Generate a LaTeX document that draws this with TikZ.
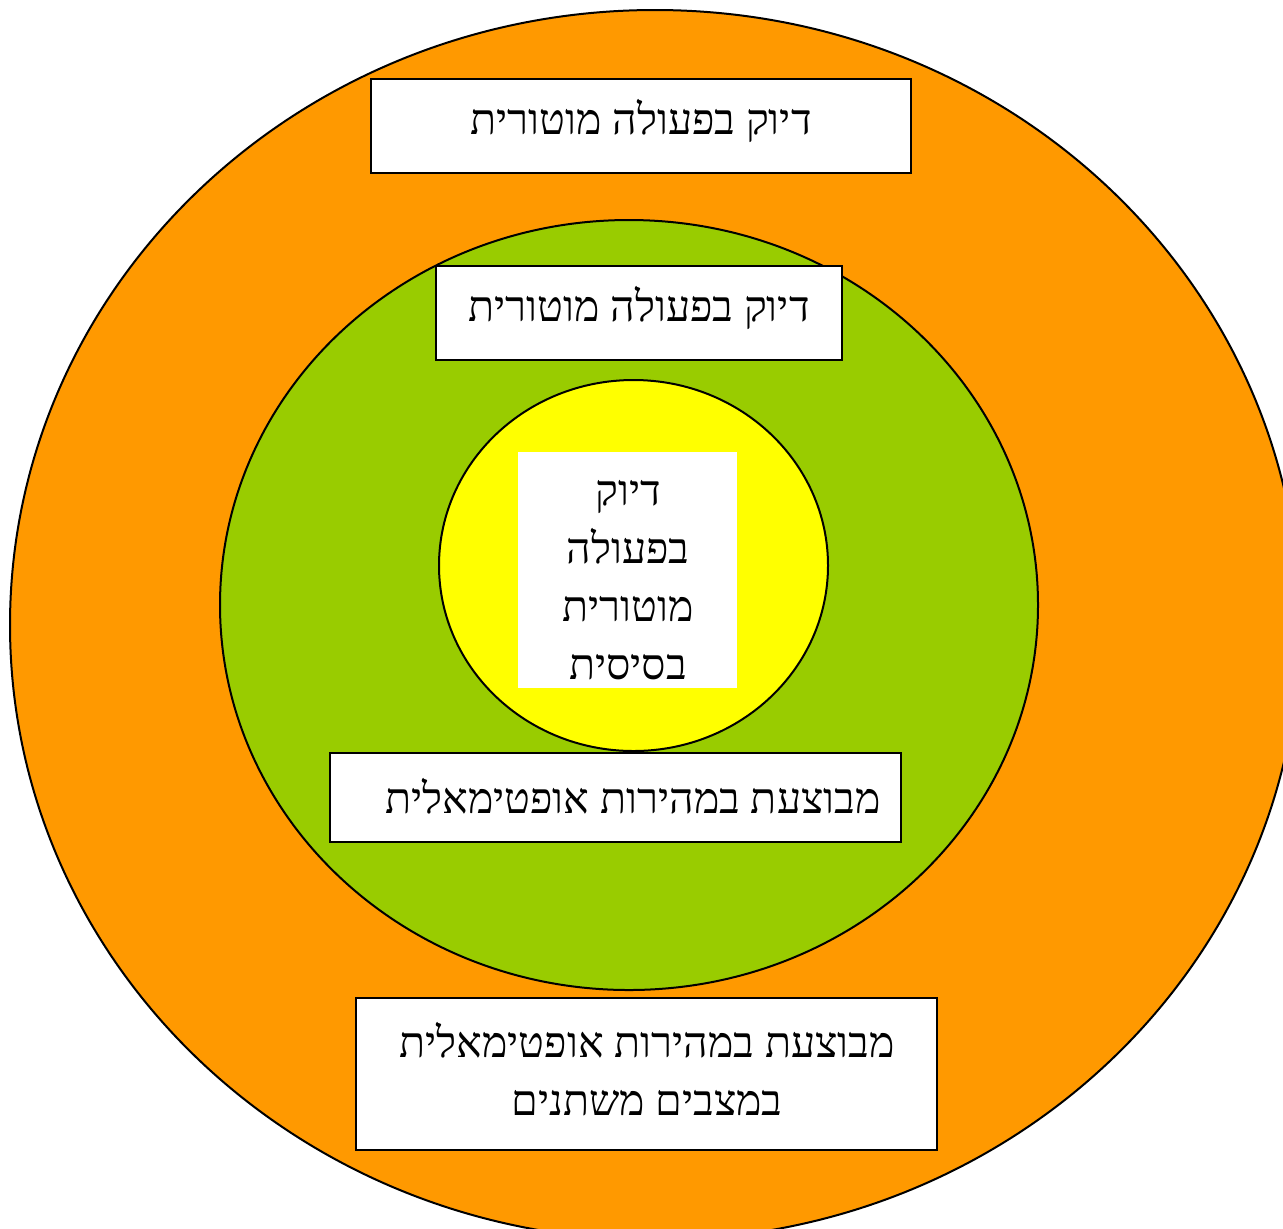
\documentclass[tikz,border=0pt]{standalone}
\usepackage{fontspec}
\newfontfamily\hebfont[Script=Hebrew]{Liberation Serif}
\TeXXeTstate=1
\definecolor{orangeC}{HTML}{FF9900}
\definecolor{greenC}{HTML}{99CC00}
\definecolor{yellowC}{HTML}{FFFF00}
\tikzset{
  ring/.style={draw=black, line width=1pt},
  lbox/.style={draw=black, line width=1.2pt, fill=white},
  lbl/.style={font=\hebfont\fontsize{21.4}{29}\selectfont, align=center, inner sep=0pt}
}
\begin{document}
\begin{tikzpicture}[x=0.5pt, y=-0.5pt]
\useasboundingbox (0,0) rectangle (1283,1228);
\clip (0,0) rectangle (1283,1228);
\fill[white] (0,0) rectangle (1283,1228);
\draw[ring, fill=orangeC] (655,625) ellipse [x radius=645, y radius=615];
\draw[ring, fill=greenC] (629,605) ellipse [x radius=409, y radius=385];
\draw[ring, fill=yellowC] (633.5,565.5) ellipse [x radius=194.5, y radius=185.5];
% boxes
\draw[lbox] (371,79) rectangle (911,173);
\node[lbl] (t1) at (641,121) {\beginR דיוק בפעולה מוטורית\endR};
\draw[lbox] (436,266) rectangle (842,360);
\node[lbl] (t2) at (639,308) {\beginR דיוק בפעולה מוטורית\endR};
\fill[white] (518,452) rectangle (737,688);
\node[lbl] (t3) at (628,580) {\beginR דיוק\endR\\\beginR בפעולה\endR\\\beginR מוטורית\endR\\\beginR בסיסית\endR};
\draw[lbox] (330,753) rectangle (901,842);
\node[lbl, anchor=east] (t4) at (881,796) {\beginR מבוצעת במהירות אופטימאלית\endR};
\draw[lbox] (356,998) rectangle (937,1150);
\node[lbl] (t5) at (647,1069) {\beginR מבוצעת במהירות אופטימאלית\endR\\\beginR במצבים משתנים\endR};
\end{tikzpicture}
\end{document}
